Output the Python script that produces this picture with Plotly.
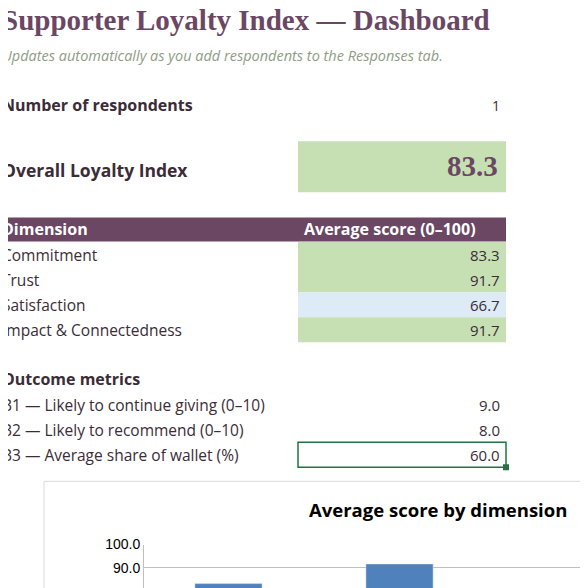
import plotly.graph_objects as go

# --- data ---
respondents = 1
overall_index = 83.3
dimensions = ["Commitment", "Trust", "Satisfaction", "Impact & Connectedness"]
dimension_scores = [83.3, 91.7, 66.7, 91.7]
outcome_labels = ["B1 — Likely to continue giving (0–10)",
                  "B2 — Likely to recommend (0–10)",
                  "B3 — Average share of wallet (%)"]
outcome_values = [9.0, 8.0, 60.0]

W = H = 588
PURPLE = "#6b4764"
GREEN = "#c6e0b4"
BLUE = "#ddebf7"
TEXT = "#3b2c37"
BODY = "Open Sans"


# page puts the figure a bit off; compensate so things land where wanted
def px(x):
    return (x - 8) / W


def py(y):
    return 1 - ((y - 16.3) / 0.983) / H


annotations = []
shapes = []


def text(x, y, s, size=16, color=TEXT, family=BODY, anchor="left", bold=False, italic=False):
    if bold:
        s = "<b>" + s + "</b>"
    if italic:
        s = "<i>" + s + "</i>"
    annotations.append(dict(x=px(x), y=py(y), xref="paper", yref="paper", text=s,
                            showarrow=False, xanchor=anchor, yanchor="middle",
                            font=dict(size=size, color=color, family=family)))


def rect(x0, y0, x1, y1, fill=None, line=None, width=0):
    shapes.append(dict(type="rect", xref="paper", yref="paper",
                       x0=px(x0), x1=px(x1), y0=py(y1), y1=py(y0),
                       fillcolor=fill if fill else "rgba(0,0,0,0)",
                       line=dict(color=line if line else "rgba(0,0,0,0)", width=width),
                       layer="below"))


# header
text(0, 20, "Supporter Loyalty Index — Dashboard", size=29, color=PURPLE,
     family="Liberation Serif", bold=True)
text(0, 56, "Updates automatically as you add respondents to the Responses tab.",
     size=14.5, color="#8f9c86", italic=True)

text(0, 105, "Number of respondents", size=16, bold=True)
text(502, 105, str(respondents), size=14, anchor="right")

rect(298, 141, 506, 192, fill=GREEN)
text(0, 170, "Overall Loyalty Index", size=17.5, bold=True)
text(500, 166, f"{overall_index:.1f}", size=29, color=PURPLE, family="Liberation Serif",
     anchor="right", bold=True)

# dimension table
rect(0, 217, 506, 241, fill=PURPLE)
text(0, 229, "Dimension", size=16, color="white", bold=True)
text(302, 229, "Average score (0–100)", size=16, color="white", bold=True)
for i, (d, v) in enumerate(zip(dimensions, dimension_scores)):
    yc = 254 + 25 * i
    rect(298, yc - 12.5, 506, yc + 12.5, fill=BLUE if v < 80 else GREEN)
    text(0, yc, d, size=15.5)
    text(502, yc, f"{v:.1f}", size=15, anchor="right")

# outcome metrics
text(0, 378, "Outcome metrics", size=16, bold=True)
for i, (lab, v) in enumerate(zip(outcome_labels, outcome_values)):
    yc = 404 + 25 * i
    text(0, yc, lab, size=15.5)
    text(502, yc, f"{v:.1f}", size=15, anchor="right")
rect(298, 441, 506, 466, line="#217346", width=1.5)
rect(503, 463, 509, 469, fill="#217346")

# chart frame
rect(44, 480, 620, 620, fill="white", line="#d9d9d9", width=1)
text(438, 508, "Average score by dimension", size=18.5, color="black",
     family="Open Sans", anchor="center", bold=True)

fig = go.Figure(go.Bar(
    x=dimensions, y=dimension_scores, marker_color="#4f81bd", width=0.393,
))

fig.update_layout(
    width=W, height=H, margin=dict(l=0, r=0, t=0, b=0),
    paper_bgcolor="white", plot_bgcolor="white", showlegend=False,
    annotations=annotations, shapes=shapes,
    xaxis=dict(domain=[px(144), 1], range=[-0.494, 2.149], showticklabels=False,
               showgrid=False, zeroline=False),
    yaxis=dict(domain=[0, py(543)], range=[78, 100], dtick=10, tickformat=".1f",
               showgrid=True, gridcolor="#bfbfbf", zeroline=False,
               showline=True, linecolor="#bfbfbf", ticks="", ticklen=0,
               tickfont=dict(size=14, color="black", family="Liberation Sans")),
)

fig.write_html("out.html")
